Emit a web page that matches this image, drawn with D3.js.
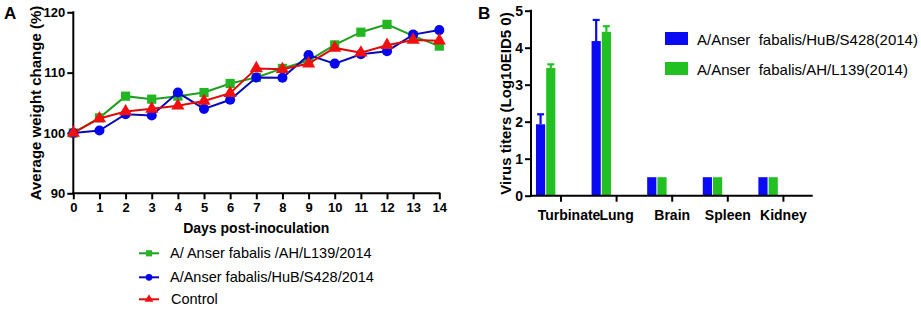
<!DOCTYPE html>
<html><head><meta charset="utf-8">
<script src="https://cdn.jsdelivr.net/npm/d3@7/dist/d3.min.js"></script>
<style>
body{margin:0;background:#fff;}
svg{display:block;font-family:"Liberation Sans",Arial,sans-serif;}
</style></head>
<body>
<svg id="c" width="921" height="309"></svg>
<script>
// ---- Panel A data ----
const days = [0,1,2,3,4,5,6,7,8,9,10,11,12,13,14];
const weightAH = [100,102.5,106.1,105.6,106.1,106.7,108.2,109.2,110.7,112.0,114.6,116.7,118.0,116.1,114.4];
const weightHuB = [100,100.4,103.1,102.9,106.7,104.0,105.5,109.2,109.15,112.9,111.5,113.05,113.55,116.3,117.05];
const weightControl = [100,102.4,103.55,104.0,104.5,105.3,106.6,110.7,110.55,111.5,114.1,113.3,114.55,115.4,115.3];
const weightSeriesNames = ["A/ Anser fabalis /AH/L139/2014","A/Anser fabalis/HuB/S428/2014","Control"];
const weightTicks = [90,100,110,120];

// ---- Panel B data ----
const organs = ["Turbinate","Lung","Brain","Spleen","Kidney"];
const titerNames = ["A/Anser  fabalis/HuB/S428(2014)","A/Anser  fabalis/AH/L139(2014)"];
const titerHuB = [1.93,4.18,0.5,0.5,0.5];
const titerHuBErr = [0.27,0.57,0,0,0];
const titerAH = [3.45,4.43,0.5,0.5,0.5];
const titerAHErr = [0.1,0.15,0,0,0];
const titerTicks = [0,1,2,3,4,5];

const svg = d3.select("#c");
const FONT = "'Liberation Sans',Arial,sans-serif";

// ================= Panel A =================
const ax = d3.scaleLinear().domain([0,14]).range([73.3,439.3]);
const ay = d3.scaleLinear().domain([90,120]).range([193.3,12.3]);
const gA = svg.append("g");

const yAxisA = d3.axisLeft(ay).tickValues(weightTicks).tickFormat(d3.format("d")).tickSize(6).tickPadding(2).tickSizeOuter(0);
const xAxisA = d3.axisBottom(ax).tickValues(days).tickFormat(d3.format("d")).tickSize(6).tickPadding(3).tickSizeOuter(0);
function styleAxis(g){
  g.selectAll("path,line").attr("stroke","#000").attr("stroke-width",2);
  g.selectAll("text").attr("font-family",FONT).attr("font-weight","bold").attr("font-size",13).attr("fill","#000");
}
gA.append("g").attr("transform","translate(73.3,0)").call(yAxisA).call(styleAxis).call(g=>g.select(".domain").attr("d","M0,11.3V194.3"));
gA.append("g").attr("transform","translate(0,193.3)").call(xAxisA).call(styleAxis).call(g=>g.select(".domain").attr("d","M72.3,0H440.3"));

gA.append("text").attr("x",4).attr("y",19).attr("font-size",17).attr("font-weight","bold").text("A");
gA.append("text").attr("transform","translate(41,103) rotate(-90)").attr("text-anchor","middle")
  .attr("font-size",15).attr("font-weight","bold").text("Average weight change (%)");
gA.append("text").attr("x",256.3).attr("y",233).attr("text-anchor","middle")
  .attr("font-size",14).attr("font-weight","bold").text("Days post-inoculation");

const seriesA = [
  {name:weightSeriesNames[0], vals:weightAH, line:"#1f9e1f", fill:"#22b622", shape:d3.symbolSquare, size:85},
  {name:weightSeriesNames[1], vals:weightHuB, line:"#0a0ab4", fill:"#0505ee", shape:d3.symbolCircle, size:80},
  {name:weightSeriesNames[2], vals:weightControl, line:"#dd0a0a", fill:"#f01010", shape:d3.symbolTriangle, size:75}
];
const lineGen = d3.line().x((d,i)=>ax(days[i])).y(d=>ay(d));
seriesA.forEach(s=>{
  gA.append("path").datum(s.vals).attr("d",lineGen).attr("fill","none").attr("stroke",s.line).attr("stroke-width",2);
  gA.selectAll(null).data(s.vals).enter().append("path")
    .attr("d",d3.symbol().type(s.shape).size(s.size))
    .attr("transform",(d,i)=>`translate(${ax(days[i])},${ay(d)})`)
    .attr("fill",s.fill);
});
// legend A
const legA = gA.append("g");
const legY = [253.3,277.3,299.3];
seriesA.forEach((s,i)=>{
  legA.append("line").attr("x1",139).attr("x2",159).attr("y1",legY[i]).attr("y2",legY[i]).attr("stroke",s.line).attr("stroke-width",2);
  legA.append("path").attr("d",d3.symbol().type(s.shape).size(s.size*0.45)).attr("transform",`translate(149,${legY[i]})`).attr("fill",s.fill);
  legA.append("text").attr("x",i==2?171:170).attr("y",legY[i]+5).attr("font-size",14.5).text(s.name);
});

// ================= Panel B =================
const by = d3.scaleLinear().domain([0,5]).range([195.7,10.7]);
const bx = d3.scaleBand().domain(organs).range([533.2,811.2]).paddingInner(0.1).paddingOuter(0.05);
const slot = d3.scaleBand().domain([0,1,2,3,4]).range([0,bx.bandwidth()]).paddingInner(0.1);
const gB = svg.append("g");

const barSeries = [
  {vals:titerHuB, err:titerHuBErr, color:"#0a0af5", idx:0, name:titerNames[0]},
  {vals:titerAH, err:titerAHErr, color:"#22c022", idx:1, name:titerNames[1]}
];
barSeries.forEach(s=>{
  const gx = (i)=>bx(organs[i])+slot(s.idx);
  gB.selectAll(null).data(s.vals).enter().append("rect")
    .attr("x",(d,i)=>gx(i)).attr("width",slot.bandwidth())
    .attr("y",d=>by(d)).attr("height",d=>by(0)-by(d)).attr("fill",s.color);
  s.vals.forEach((v,i)=>{
    if(!s.err[i]) return;
    const cx = gx(i)+slot.bandwidth()/2;
    gB.append("line").attr("x1",cx).attr("x2",cx).attr("y1",by(v)).attr("y2",by(v+s.err[i])).attr("stroke",s.color).attr("stroke-width",2.2);
    gB.append("line").attr("x1",cx-3.5).attr("x2",cx+3.5).attr("y1",by(v+s.err[i])).attr("y2",by(v+s.err[i])).attr("stroke",s.color).attr("stroke-width",2.2);
  });
});

const yAxisB = d3.axisLeft(by).tickValues(titerTicks).tickFormat(d3.format("d")).tickSize(6).tickPadding(2).tickSizeOuter(0);
gB.append("g").attr("transform","translate(531,0)").call(yAxisB).call(styleAxis)
  .call(g=>g.select(".domain").attr("d","M0,9.7V196.7"))
  .call(g=>g.selectAll("text").attr("font-size",14));
const xAxisB = d3.axisBottom(bx).tickSize(6).tickPadding(6).tickSizeOuter(0).offset(0);
gB.append("g").attr("transform","translate(0,195.7)").call(xAxisB).call(styleAxis)
  .call(g=>g.select(".domain").attr("d","M530,0H812.7"))
  .call(g=>g.selectAll("text").attr("font-size",14).attr("dy","0.9em"))
  .call(g=>g.selectAll(".tick text").filter(d=>d===organs[0]).attr("dx",8));

gB.append("text").attr("x",478).attr("y",19).attr("font-size",17).attr("font-weight","bold").text("B");
gB.append("text").attr("transform","translate(511,103.5) rotate(-90)").attr("text-anchor","middle")
  .attr("font-size",15).attr("font-weight","bold").text("Virus titers (Log10EID5 0)");

barSeries.forEach((s,i)=>{
  gB.append("rect").attr("x",665).attr("y",32+30*i).attr("width",23).attr("height",13).attr("fill",s.color);
  gB.append("text").attr("x",697).attr("y",45+30*i).attr("font-size",15).attr("xml:space","preserve").style("white-space","pre").text(s.name);
});
</script>
</body></html>
